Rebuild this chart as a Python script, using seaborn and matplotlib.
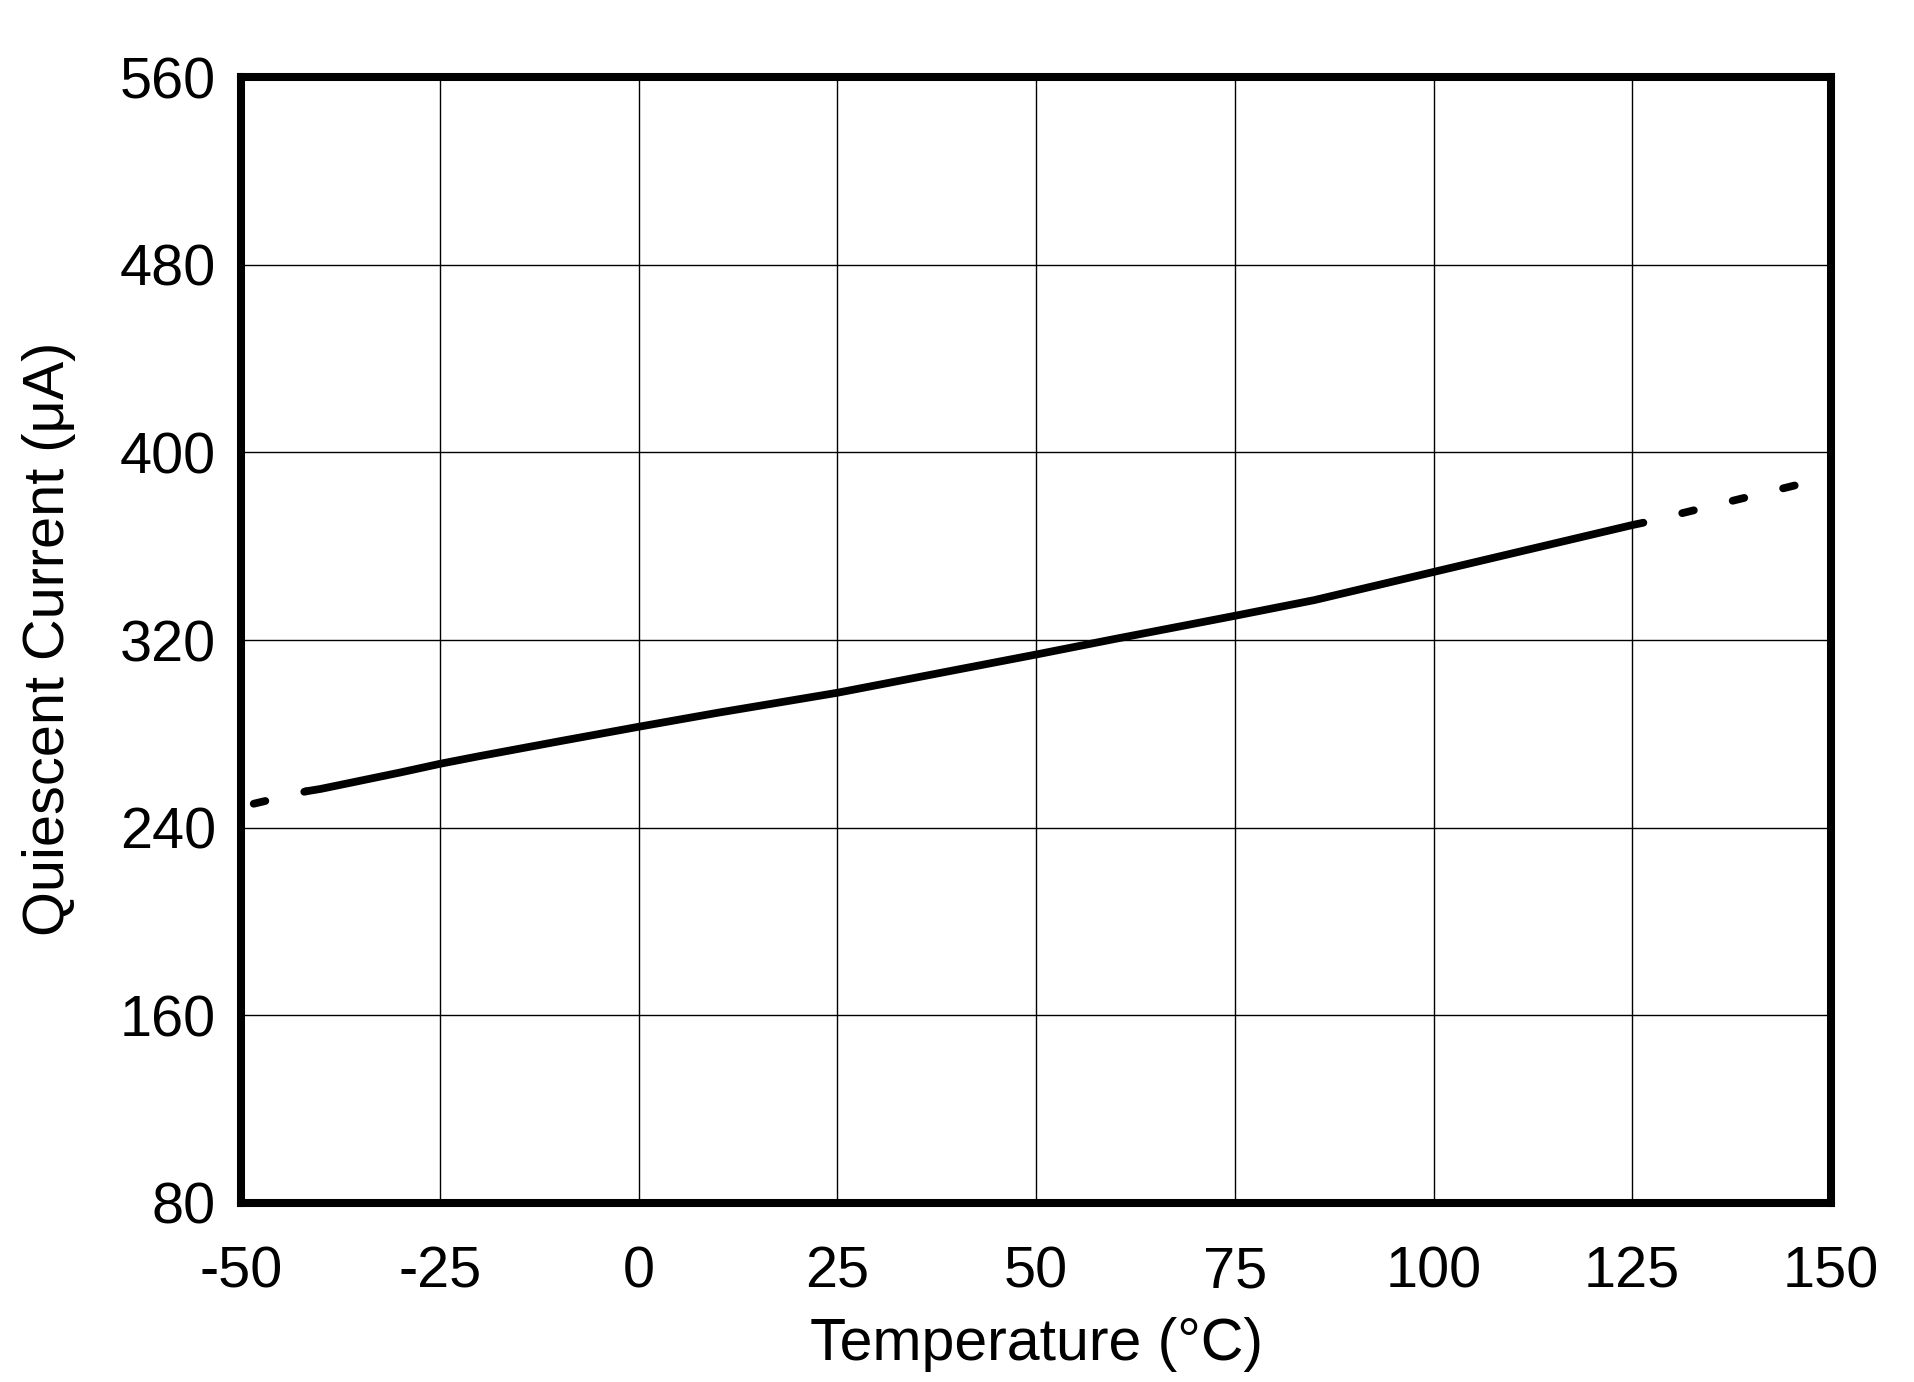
import matplotlib
matplotlib.use("Agg")
import matplotlib.pyplot as plt
import seaborn as sns
import pandas as pd

# Data
solid_temp = [-41.8, -40, -30, -25, -20, -10, 0, 10, 25, 40, 50, 60, 75, 85, 100, 110, 125, 126.4]
solid_current = [255.5, 256.5, 263.5, 267.2, 270.5, 276.8, 283, 289, 297.5, 307.3, 313.8, 320.5, 330.3, 337, 349, 357, 369, 370]
dash_low_temp = [-48.4, -41.8]
dash_low_current = [250.2, 255.5]
dash_high_temp = [126.4, 148]
dash_high_current = [370, 388]

x_ticks = [-50, -25, 0, 25, 50, 75, 100, 125, 150]
y_ticks = [80, 160, 240, 320, 400, 480, 560]
x_label = "Temperature (°C)"
y_label = "Quiescent Current (μA)"

sns.set_theme(style="white")
plt.rcParams["font.family"] = ["Liberation Sans", "DejaVu Sans"]
plt.rcParams["axes.unicode_minus"] = False
plt.rcParams["lines.scale_dashes"] = False

fig = plt.figure(figsize=(19.15, 13.82), dpi=100)
ax = fig.add_axes([241 / 1915, 1 - 1203 / 1382, 1590 / 1915, 1126 / 1382])

lw = 5.6
sns.lineplot(x=solid_temp, y=solid_current, ax=ax, color="black", linewidth=lw,
             solid_capstyle="round", sort=False, errorbar=None)
sns.lineplot(x=dash_low_temp, y=dash_low_current, ax=ax, color="black", linewidth=lw,
             linestyle=(0, (8.6, 28.8)), dash_capstyle="round", sort=False, errorbar=None)
sns.lineplot(x=dash_high_temp, y=dash_high_current, ax=ax, color="black", linewidth=lw,
             linestyle=(8.6, (8.6, 28.8)), dash_capstyle="round", sort=False, errorbar=None)

ax.set_xlim(-50, 150)
ax.set_ylim(80, 560)
ax.set_xticks(x_ticks)
ax.set_xticklabels([str(t) for t in x_ticks])
ax.set_yticks(y_ticks)
ax.set_yticklabels([str(t) for t in y_ticks])

ax.grid(True, color="black", linewidth=1.0)
ax.set_axisbelow(True)
for s in ax.spines.values():
    s.set_visible(True)
    s.set_color("black")
    s.set_linewidth(5.8)

ax.tick_params(axis="both", length=0, labelsize=41.5, colors="black")
ax.tick_params(axis="x", pad=30.5)
ax.tick_params(axis="y", pad=18)

ax.set_xlabel(x_label, fontsize=42.5, color="black", labelpad=13)
ax.set_ylabel(y_label, fontsize=41.5, color="black")
ax.yaxis.set_label_coords(-0.1205, 0.501)
ax.yaxis.label.set_va("center")

fig.savefig("out.png", dpi=100, facecolor="white")
